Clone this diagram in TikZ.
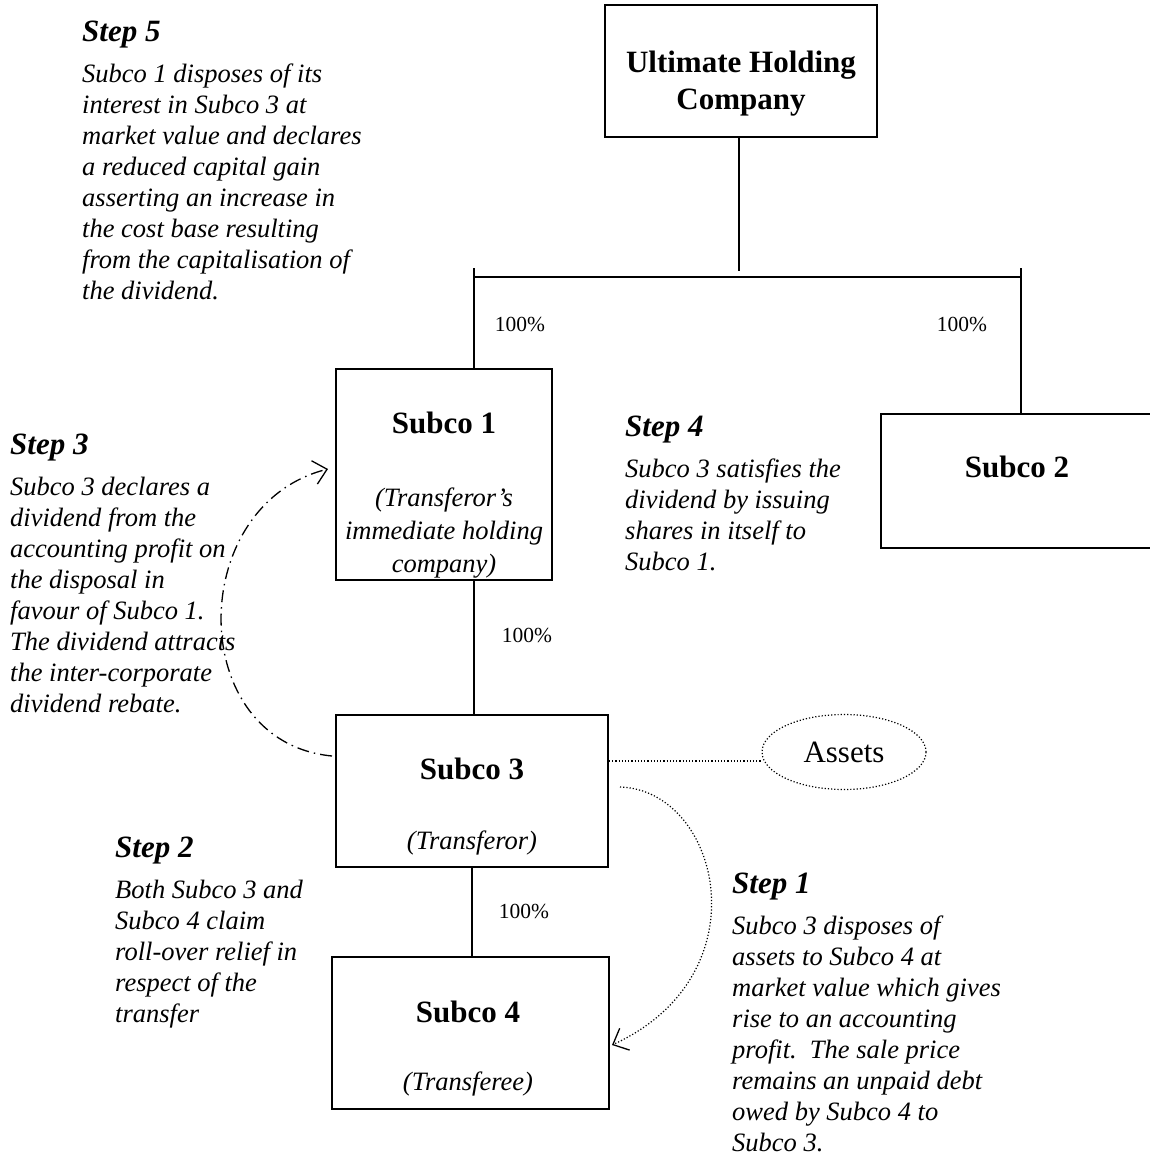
\documentclass[tikz,border=0pt]{standalone}
\usepackage{fontspec}
\setmainfont{Liberation Serif}
\usetikzlibrary{arrows.meta,shapes.geometric}
\tikzset{
  box/.style={draw, line width=2pt, rectangle, inner sep=0pt},
  title/.style={font=\fontsize{31}{37}\selectfont\bfseries, align=center, inner sep=0pt},
  sub/.style={font=\fontsize{26.5}{33}\selectfont\itshape, align=center, inner sep=0pt},
  pct/.style={font=\fontsize{21.5}{25}\selectfont, inner sep=0pt},
  steptext/.style={font=\fontsize{26.5}{31}\selectfont\itshape, align=left, anchor=north west, inner sep=0pt},
  conn/.style={line width=1.3pt},
  dotline/.style={line width=1.2pt, dash pattern=on 1.2pt off 2pt},
  dashdot/.style={line width=1.3pt, dash pattern=on 12pt off 5pt on 1.5pt off 5pt},
  barb/.style={-{Straight Barb[length=13pt,width=24pt,line width=1.3pt]}},
}
\newcommand\stephead[1]{{\fontsize{31}{31}\selectfont\bfseries\itshape #1}}
\begin{document}
\begin{tikzpicture}[x=1pt,y=-1pt]
\useasboundingbox (0,0) rectangle (1149,1153);

% boxes
\node[box, minimum width=272, minimum height=132] (uhc) at (741,71) {};
\node[box, minimum width=216, minimum height=211] (s1) at (444,474.5) {};
\node[box, minimum width=279, minimum height=134] (s2) at (1020.5,481) {};
\node[box, minimum width=272, minimum height=152] (s3) at (472,791) {};
\node[box, minimum width=277, minimum height=152] (s4) at (470.5,1033) {};

% box texts
\node[title] (uhct) at (741,84) {Ultimate Holding\\Company};
\node[title] (s1t) at (444,423) {Subco 1};
\node[sub] (s1s) at (444,533) {(Transferor’s\\immediate holding\\company)};
\node[title] (s2t) at (1017,467) {Subco 2};
\node[title] (s3t) at (472,769) {Subco 3};
\node[sub] (s3s) at (472,843) {(Transferor)};
\node[title] (s4t) at (468,1012) {Subco 4};
\node[sub] (s4s) at (468,1084) {(Transferee)};

% assets
\node[ellipse, draw, dotline, minimum width=164, minimum height=75, inner sep=0pt,
      font=\fontsize{31}{31}\selectfont] (assets) at (844,752) {Assets};

% percentages
\node[pct] (p1) at (520,324) {100\%};
\node[pct] (p2) at (962,324) {100\%};
\node[pct] (p3) at (527,635) {100\%};
\node[pct] (p4) at (524,911) {100\%};

% tree connectors
\coordinate (barTop) at (739,271);
\coordinate (barL) at (473,277);
\coordinate (barR) at (1021,277);
\coordinate (tickL) at (474,268);
\coordinate (tickR) at (1021,268);
\coordinate (midx) at (472,0);
\draw[conn] (uhc.south -| barTop) -- (barTop);
\draw[conn] (barL) -- (barR);
\draw[conn] (tickL) -- (s1.north -| tickL);
\draw[conn] (tickR) -- (s2.north -| tickR);
\draw[conn] (s1.south -| tickL) -- (s3.north -| tickL);
\draw[conn] (s3.south -| midx) -- (s4.north -| midx);

% assets link
\coordinate (aline) at (0,761);
\draw[dotline] (s3.east |- aline) -- (assets.west |- aline);

% step 1 arrow
\coordinate (a1s) at (620,787);
\coordinate (a1e) at (612,1045);
\draw[dotline, barb] (a1s) .. controls (720,790) and (765,975) .. (a1e);

% step 3 arrow
\coordinate (a3s) at (332,756);
\coordinate (a3e) at (328,469);
\draw[dashdot, barb] (a3s) .. controls (185,742) and (185,505) .. (a3e);

% step texts
\node[steptext] (st5) at (82,21) {\stephead{Step 5}\\[10pt]
Subco 1 disposes of its\\
interest in Subco 3 at\\
market value and declares\\
a reduced capital gain\\
asserting an increase in\\
the cost base resulting\\
from the capitalisation of\\
the dividend.};

\node[steptext] (st3) at (10,434) {\stephead{Step 3}\\[10pt]
Subco 3 declares a\\
dividend from the\\
accounting profit on\\
the disposal in\\
favour of Subco 1.\\
The dividend attracts\\
the inter-corporate\\
dividend rebate.};

\node[steptext] (st4) at (625,416) {\stephead{Step 4}\\[10pt]
Subco 3 satisfies the\\
dividend by issuing\\
shares in itself to\\
Subco 1.};

\node[steptext] (st2) at (115,837) {\stephead{Step 2}\\[10pt]
Both Subco 3 and\\
Subco 4 claim\\
roll-over relief in\\
respect of the\\
transfer};

\node[steptext] (st1) at (732,873) {\stephead{Step 1}\\[10pt]
Subco 3 disposes of\\
assets to Subco 4 at\\
market value which gives\\
rise to an accounting\\
profit.\ \ The sale price\\
remains an unpaid debt\\
owed by Subco 4 to\\
Subco 3.};
\end{tikzpicture}
\end{document}
